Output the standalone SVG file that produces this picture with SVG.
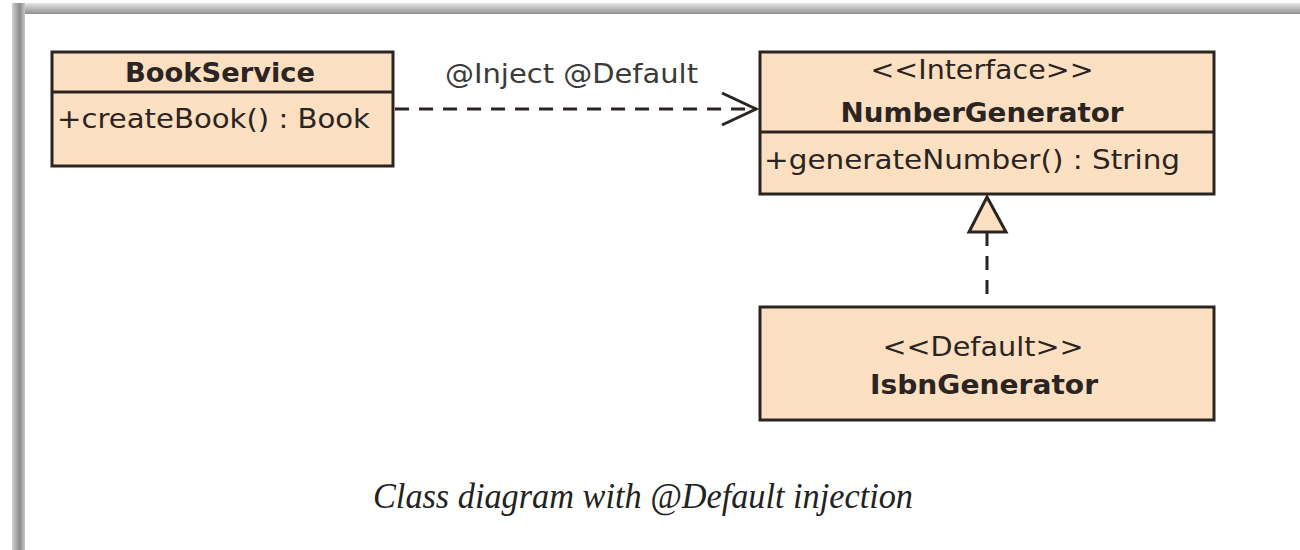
<svg xmlns="http://www.w3.org/2000/svg" width="1300" height="550" viewBox="0 0 1300 550">
  <defs>
    <style>
      .box { fill: #fddfc1; stroke: #2b2522; stroke-width: 3; }
      .div { stroke: #2b2522; stroke-width: 3; }
      .t { font-family: "DejaVu Sans", "Liberation Sans", sans-serif; font-size: 27px; fill: #2a2422; }
      .b { font-weight: bold; }
      .mid { text-anchor: middle; }
      .lbl { font-family: "DejaVu Sans", "Liberation Sans", sans-serif; font-size: 26px; fill: #3a3a3a; }
      .cap { font-family: "Liberation Serif", "DejaVu Serif", serif; font-style: italic; font-size: 36px; fill: #222; }
      .dash { fill: none; stroke: #2b2522; stroke-width: 3; stroke-dasharray: 14 10; }
    </style>
    <marker id="open" markerUnits="userSpaceOnUse" markerWidth="40" markerHeight="40" refX="36" refY="18" orient="auto">
      <path d="M2,2 L36,18 L2,34" fill="none" stroke="#2b2522" stroke-width="3"/>
    </marker>
    <linearGradient id="topg" x1="0" y1="0" x2="0" y2="1">
      <stop offset="0" stop-color="#e6e6e6"/>
      <stop offset="1" stop-color="#8f8f8f"/>
    </linearGradient>
    <linearGradient id="leftg" x1="0" y1="0" x2="1" y2="0">
      <stop offset="0" stop-color="#d0d0d0"/>
      <stop offset="0.6" stop-color="#8a8a8a"/>
      <stop offset="1" stop-color="#c8c8c8"/>
    </linearGradient>
  </defs>
  <rect width="1300" height="550" fill="#ffffff"/>
  <rect x="12" y="3" width="1288" height="11" fill="url(#topg)"/>
  <rect x="12" y="3" width="13" height="547" fill="url(#leftg)"/>

  <g id="connectors">
    <line class="dash" x1="395" y1="109" x2="756" y2="109" marker-end="url(#open)"/>
    <text class="lbl" x="445" y="83" textLength="253" lengthAdjust="spacingAndGlyphs">@Inject @Default</text>
    <line class="dash" x1="987" y1="232" x2="987" y2="296" stroke-dasharray="12 11"/>
    <path d="M987,197 L969,232 L1006,232 Z" fill="#fddfc1" stroke="#2b2522" stroke-width="3" stroke-linejoin="miter"/>
  </g>

  <g id="BookService">
    <rect class="box" x="52" y="52" width="341" height="114"/>
    <line class="div" x1="52" y1="92" x2="393" y2="92"/>
    <text class="t b mid" x="220" y="82" textLength="190" lengthAdjust="spacingAndGlyphs">BookService</text>
    <text class="t" x="57" y="128" textLength="313" lengthAdjust="spacingAndGlyphs">+createBook() : Book</text>
  </g>

  <g id="NumberGenerator">
    <rect class="box" x="760" y="52" width="454" height="142"/>
    <line class="div" x1="760" y1="132" x2="1214" y2="132"/>
    <text class="t mid" x="982" y="79" textLength="223" lengthAdjust="spacingAndGlyphs">&lt;&lt;Interface&gt;&gt;</text>
    <text class="t b mid" x="982" y="122" textLength="283" lengthAdjust="spacingAndGlyphs">NumberGenerator</text>
    <text class="t" x="764" y="169" textLength="416" lengthAdjust="spacingAndGlyphs">+generateNumber() : String</text>
  </g>

  <g id="IsbnGenerator">
    <rect class="box" x="760" y="307" width="454" height="113"/>
    <text class="t mid" x="983" y="356" textLength="201" lengthAdjust="spacingAndGlyphs">&lt;&lt;Default&gt;&gt;</text>
    <text class="t b mid" x="984" y="394" textLength="228" lengthAdjust="spacingAndGlyphs">IsbnGenerator</text>
  </g>

  <text class="cap" x="373" y="508" textLength="540" lengthAdjust="spacingAndGlyphs">Class diagram with @Default injection</text>
</svg>
